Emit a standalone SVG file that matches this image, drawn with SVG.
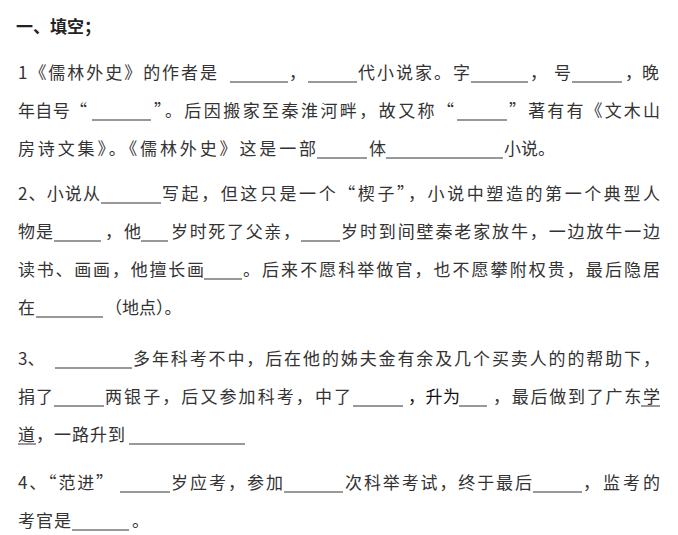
<svg xmlns="http://www.w3.org/2000/svg" width="678" height="535" viewBox="0 0 678 535">
<style>
text{font-family:"Noto Sans CJK SC","DejaVu Sans",sans-serif;font-size:17px;fill:#333}
.b{font-weight:bold;fill:#222}
line{stroke:#333;stroke-width:1}
</style>
<rect width="678" height="535" fill="#fff"/>
<g id="title"><text class="b" x="16" y="33">一、填空；</text></g>
<g id="q1">
<text x="18" y="79" textLength="199" lengthAdjust="spacing">1《儒林外史》的作者是</text>
<text x="289" y="79">，</text>
<text x="358" y="79" textLength="112" lengthAdjust="spacing">代小说家。字</text>
<text x="530" y="79" textLength="41" lengthAdjust="spacing">，号</text>
<text x="625" y="79">，</text>
<text x="642" y="79">晚</text>
<text x="18" y="117" textLength="69" lengthAdjust="spacing">年自号“</text>
<text x="154" y="117" textLength="300" lengthAdjust="spacing">”。后因搬家至秦淮河畔，故又称“</text>
<text x="509" y="117" textLength="151" lengthAdjust="spacing">”著有有《文木山</text>
<text x="18" y="155" textLength="298" lengthAdjust="spacing">房诗文集》。《儒林外史》这是一部</text>
<text x="369" y="155">体</text>
<text x="504" y="155">小说。</text>
</g>
<g id="q2">
<text x="18" y="200" textLength="82" lengthAdjust="spacing">2、小说从</text>
<text x="162" y="200" textLength="498" lengthAdjust="spacing">写起，但这只是一个“楔子”，小说中塑造的第一个典型人</text>
<text x="18" y="238" textLength="35" lengthAdjust="spacing">物是</text>
<text x="105" y="238" textLength="36" lengthAdjust="spacing">，他</text>
<text x="171" y="238" textLength="129" lengthAdjust="spacing">岁时死了父亲，</text>
<text x="341" y="238" textLength="319" lengthAdjust="spacing">岁时到间壁秦老家放牛，一边放牛一边</text>
<text x="18" y="276" textLength="186" lengthAdjust="spacing">读书、画画，他擅长画</text>
<text x="243" y="276" textLength="417" lengthAdjust="spacing">。后来不愿科举做官，也不愿攀附权贵，最后隐居</text>
<text x="18" y="314">在</text>
<text x="105" y="314">（地点）。</text>
</g>
<g id="q3">
<text x="18" y="365">3、</text>
<text x="133" y="365" textLength="527" lengthAdjust="spacing">多年科考不中，后在他的姊夫金有余及几个买卖人的的帮助下，</text>
<text x="18" y="403" textLength="35" lengthAdjust="spacing">捐了</text>
<text x="105" y="403" textLength="246" lengthAdjust="spacing">两银子，后又参加科考，中了</text>
<text x="408" y="403" textLength="52" lengthAdjust="spacing" style="fill:#111">，升为</text>
<text x="493" y="403" textLength="167" lengthAdjust="spacing">，最后做到了广东学</text>
<text x="18" y="441" textLength="107" lengthAdjust="spacing">道，一路升到</text>
</g>
<g id="q4">
<text x="18" y="489" textLength="95" lengthAdjust="spacing">4、“范进”</text>
<text x="171" y="489" textLength="112" lengthAdjust="spacing">岁应考，参加</text>
<text x="345" y="489" textLength="187" lengthAdjust="spacing">次科举考试，终于最后</text>
<text x="583" y="489" textLength="77" lengthAdjust="spacing">，监考的</text>
<text x="18" y="527" textLength="53" lengthAdjust="spacing">考官是</text>
<text x="132" y="527">。</text>
</g>
<g id="blanks">
<line x1="230" y1="82" x2="288" y2="82"/><line x1="308" y1="82" x2="357" y2="82"/><line x1="471" y1="82" x2="528" y2="82"/><line x1="572" y1="82" x2="622" y2="82"/>
<line x1="92" y1="120" x2="151" y2="120"/><line x1="457" y1="120" x2="507" y2="120"/>
<line x1="317" y1="158" x2="367" y2="158"/><line x1="386" y1="158" x2="503" y2="158"/>
<line x1="101" y1="203" x2="161" y2="203"/>
<line x1="54" y1="241" x2="101" y2="241"/><line x1="141" y1="241" x2="168" y2="241"/><line x1="301" y1="241" x2="340" y2="241"/>
<line x1="204" y1="279" x2="242" y2="279"/>
<line x1="36" y1="317" x2="103" y2="317"/>
<line x1="55" y1="368" x2="132" y2="368"/>
<line x1="54" y1="406" x2="104" y2="406"/><line x1="353" y1="406" x2="403" y2="406"/><line x1="459" y1="406" x2="487" y2="406"/><line x1="641" y1="406" x2="660" y2="406"/>
<line x1="18" y1="444" x2="36" y2="444"/><line x1="129" y1="444" x2="245" y2="444"/>
<line x1="120" y1="492" x2="170" y2="492"/><line x1="284" y1="492" x2="343" y2="492"/><line x1="533" y1="492" x2="582" y2="492"/>
<line x1="72" y1="530" x2="129" y2="530"/>
</g>
</svg>
